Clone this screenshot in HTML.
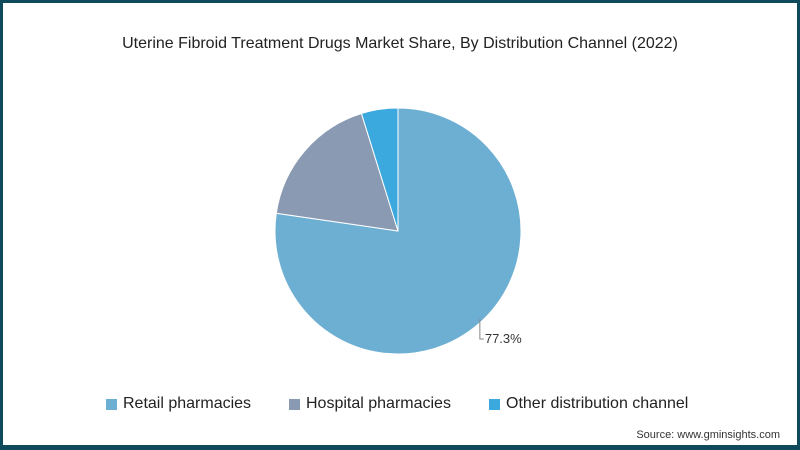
<!DOCTYPE html>
<html><head><meta charset="utf-8"><style>
body{margin:0;background:#fff}
#c{position:relative;width:800px;height:450px;box-sizing:border-box;border:3px solid #0f4a5c;border-bottom-width:5px;font-family:"Liberation Sans",sans-serif;overflow:hidden}
.t{position:absolute;left:0;width:794px;top:32px;text-align:center;font-size:16px;color:#222}
.lg{position:absolute;top:392px;font-size:16px;color:#222;display:flex;align-items:center}
.lg span.s{width:11px;height:11px;margin-right:6px;display:inline-block}
.src{position:absolute;right:17px;top:426px;font-size:11px;color:#333}
</style></head><body>
<div id="c">
<div class="t">Uterine Fibroid Treatment Drugs Market Share, By Distribution Channel (2022)</div>
<svg id="pie" width="794" height="442" style="position:absolute;left:0;top:0"></svg>
<div class="lg" style="left:103px"><span class="s" style="background:#6dafd3"></span>Retail pharmacies</div>
<div class="lg" style="left:286px"><span class="s" style="background:#8a9ab2"></span>Hospital pharmacies</div>
<div class="lg" style="left:486px"><span class="s" style="background:#3ba9de"></span>Other distribution channel</div>
<div class="src">Source: www.gminsights.com</div>
</div>
<script>
const categories=["Retail pharmacies","Hospital pharmacies","Other distribution channel"];
const values=[77.3,17.9,4.8];
const colors=["#6dafd3","#8a9ab2","#3ba9de"];
const labels=["77.3%","",""];
const svg=document.getElementById('pie');
const NS="http://www.w3.org/2000/svg";
const cx=395,cy=228,r=123;
const total=values.reduce((a,b)=>a+b,0);
function pt(a,rr){return [cx+rr*Math.sin(a),cy-rr*Math.cos(a)];}
let a0=0;
values.forEach((v,i)=>{
  const a1=a0+v/total*2*Math.PI;
  const p0=pt(a0,r),p1=pt(a1,r);
  const large=(a1-a0)>Math.PI?1:0;
  const p=document.createElementNS(NS,'path');
  p.setAttribute('d',`M${cx},${cy}L${p0[0]},${p0[1]}A${r},${r} 0 ${large} 1 ${p1[0]},${p1[1]}Z`);
  p.setAttribute('fill',colors[i]);p.setAttribute('stroke','#fff');p.setAttribute('stroke-width','1');
  
  
  svg.appendChild(p);
  if(labels[i]){
    const m=(a0+a1)/2;const q=pt(m,r-4);
    const x=q[0]+4,y=q[1]-2;
    const l=document.createElementNS(NS,'path');
    l.setAttribute('d',`M${x},${y}V${y+20}H${x+4}`);
    l.setAttribute('stroke','#888');l.setAttribute('fill','none');
    
    
    svg.appendChild(l);
    const t=document.createElementNS(NS,'text');
    t.setAttribute('x',x+5);t.setAttribute('y',y+24);
    t.setAttribute('font-size','13');t.setAttribute('fill','#333');
    t.setAttribute('font-family','Liberation Sans, sans-serif');
    t.textContent=labels[i];
    
    
    svg.appendChild(t);
  }
  a0=a1;
});
</script>
</body></html>
